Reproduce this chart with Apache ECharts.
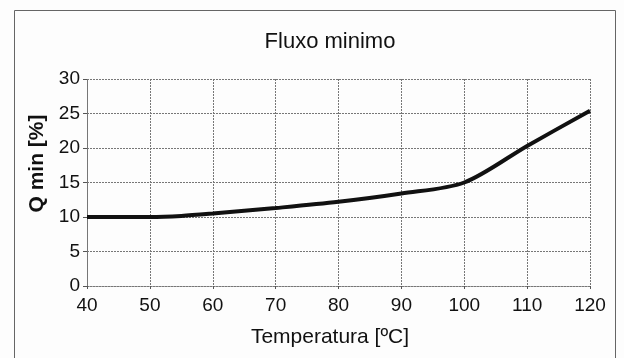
<!DOCTYPE html>
<html>
<head>
<meta charset="utf-8">
<script src="https://cdn.jsdelivr.net/npm/echarts@6/dist/echarts.min.js"></script>
<style>
  html, body { margin: 0; padding: 0; background: #fdfdfd; }
  #chart { width: 624px; height: 358px; }
</style>
</head>
<body>
<div id="chart"></div>
<script>
// Minimum flow versus temperature
const temperatures = [40, 50, 55, 60, 70, 80, 90, 100, 110, 120];
const qMin = [10.0, 10.0, 10.15, 10.5, 11.3, 12.2, 13.4, 15.0, 20.3, 25.4];
const xTicks = [40, 50, 60, 70, 80, 90, 100, 110, 120];
const yTicks = [0, 5, 10, 15, 20, 25, 30];

const font = 'Liberation Sans, Arial, sans-serif';
const gridLine = { color: '#777', width: 1, type: [2, 1] };

const chart = echarts.init(document.getElementById('chart'), null, { renderer: 'canvas' });
chart.setOption({
  backgroundColor: '#fdfdfd',
  animation: false,
  title: {
    text: 'Fluxo minimo',
    left: 325,
    top: 26,
    textAlign: 'center',
    textStyle: { fontFamily: font, fontSize: 22, fontWeight: 'normal', color: '#111' }
  },
  graphic: [{
    type: 'rect',
    shape: { x: 14.5, y: 10.5, width: 601, height: 360 },
    style: { fill: 'none', stroke: '#666', lineWidth: 1 },
    silent: true
  }],
  grid: { left: 87, right: 34, top: 79, bottom: 72, containLabel: false },
  xAxis: {
    type: 'value',
    min: xTicks[0],
    max: xTicks[xTicks.length - 1],
    interval: 10,
    name: 'Temperatura [ºC]',
    nameLocation: 'middle',
    nameGap: 41,
    nameTextStyle: { fontFamily: font, fontSize: 21, color: '#111', padding: [0, 17, 0, 0] },
    axisLine: { lineStyle: gridLine },
    axisTick: { show: true, length: 3, lineStyle: { color: '#555' } },
    axisLabel: { fontFamily: font, fontSize: 19, color: '#111', margin: 10 },
    splitLine: { show: true, lineStyle: gridLine }
  },
  yAxis: {
    type: 'value',
    min: yTicks[0],
    max: yTicks[yTicks.length - 1],
    interval: 5,
    name: 'Q min [%]',
    nameLocation: 'middle',
    nameGap: 36,
    nameTextStyle: { fontFamily: font, fontSize: 21, fontWeight: 'bold', color: '#111', padding: [0, 0, 0, 38] },
    axisLine: { show: true, lineStyle: gridLine },
    axisTick: { show: true, length: 4, lineStyle: { color: '#555' } },
    axisLabel: { fontFamily: font, fontSize: 19, color: '#111', margin: 7 },
    splitLine: { show: true, lineStyle: gridLine }
  },
  series: [{
    type: 'line',
    data: temperatures.map((t, i) => [t, qMin[i]]),
    smooth: 0.3,
    showSymbol: false,
    lineStyle: { color: '#111', width: 4 }
  }]
});
</script>
</body>
</html>
